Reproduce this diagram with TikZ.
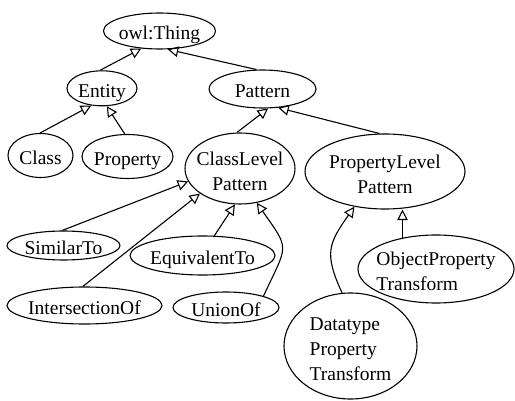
\documentclass[tikz,border=0pt]{standalone}
\usepackage{fontspec}
\setmainfont{Liberation Serif}
\usetikzlibrary{shapes.geometric,arrows.meta}
\begin{document}
\begin{tikzpicture}[x=1pt,y=1pt,
  nd/.style={ellipse, draw, line width=1.1pt, inner sep=-30pt,
    font=\fontsize{19.5pt}{25pt}\selectfont, text height=18pt, text depth=0pt},
  twoline/.style={text height=43pt},
  threeline/.style={text height=68pt},
  edge/.style={line width=1.1pt, -{Triangle[open,length=10.5pt,width=10.5pt,line width=1.1pt]}}]
\useasboundingbox (0,0) rectangle (515,400);
\node[nd, minimum width=112pt, minimum height=36pt] (T) at (159.5,369) {owl:Thing};
\node[nd, minimum width=70pt, minimum height=35pt] (E) at (102,311.7) {Entity};
\node[nd, minimum width=107pt, minimum height=38pt] (P) at (262.5,311) {Pattern};
\node[nd, minimum width=65pt, minimum height=44pt] (C) at (40.5,244.5) {Class};
\node[nd, minimum width=91pt, minimum height=44pt] (Pr) at (127.5,243.5) {Property};
\node[nd, twoline, align=center, minimum width=110pt, minimum height=71pt] (CL) at (240,231.5) {ClassLevel\\Pattern};
\node[nd, twoline, align=center, minimum width=160pt, minimum height=75pt] (PL) at (385,228.5) {PropertyLevel\\Pattern};
\node[nd, twoline, align=left, minimum width=156pt, minimum height=68pt] (OP) at (436,131) {ObjectProperty\\Transform};
\node[nd, threeline, align=left, minimum width=133pt, minimum height=106pt] (DP) at (350.5,54) {Datatype\\Property\\Transform};
\node[nd, minimum width=113pt, minimum height=29pt] (S) at (63.5,154.5) {SimilarTo};
\node[nd, minimum width=145pt, minimum height=39pt] (Eq) at (202.5,144.5) {EquivalentTo};
\node[nd, minimum width=155pt, minimum height=37pt] (I) at (84.5,94.5) {IntersectionOf};
\node[nd, minimum width=106pt, minimum height=31pt] (U) at (226,92.5) {UnionOf};
\draw[edge] (E.96) -- (T.224);
\draw[edge] (P.107) -- (T.294);
\draw[edge] (C.91) -- (E.238);
\draw[edge] (Pr.97) -- (E.285);
\draw[edge] (CL.95) -- (P.286);
\draw[edge] (PL.98) -- (P.310);
\draw[edge] (S.95) -- (CL.194);
\draw[edge] (I.95) -- (CL.212);
\draw[edge] (Eq.59) -- (CL.262);
\draw[edge] (U.17) to[out=65,in=-55,looseness=1.6] (CL.296);
\draw[edge] (DP.99) to[out=115,in=235,looseness=1.3] (PL.229);
\draw[edge] (OP.137) -- (OP.137 |- PL.south);
\end{tikzpicture}
\end{document}
